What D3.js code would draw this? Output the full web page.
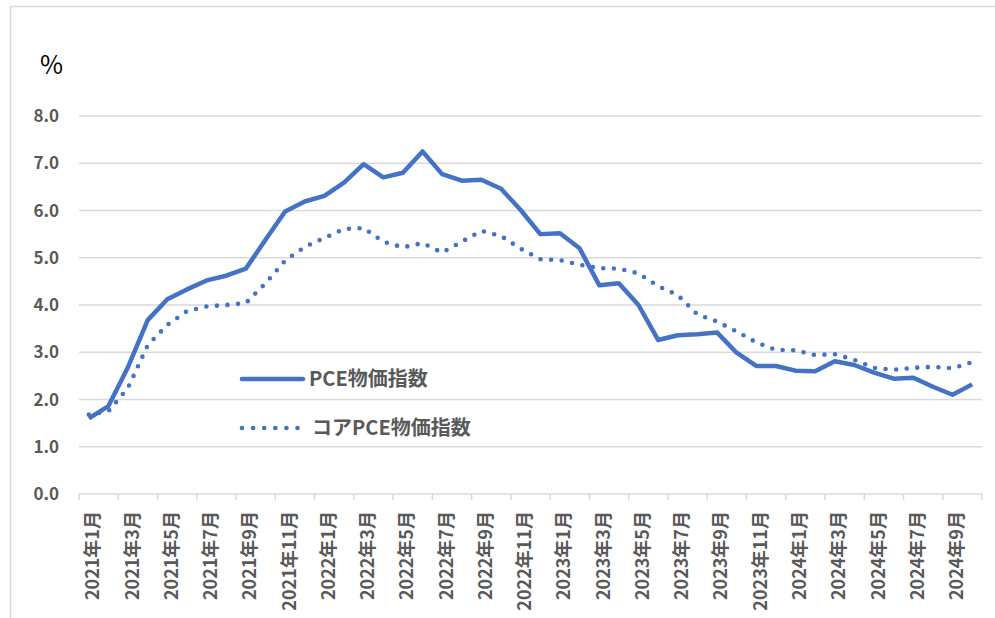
<!DOCTYPE html>
<html>
<head>
<meta charset="utf-8">
<script src="https://cdn.jsdelivr.net/npm/d3@7"></script>
<style>
    body { margin: 0; background: #fff; }
    text { font-family: 'Noto Sans CJK JP', 'Noto Sans', sans-serif; }
</style>
</head>
<body>
<svg></svg>
<script>
let width = 995
let height = 618

let months = [
    '2021年1月', '2021年2月', '2021年3月', '2021年4月', '2021年5月', '2021年6月',
    '2021年7月', '2021年8月', '2021年9月', '2021年10月', '2021年11月', '2021年12月',
    '2022年1月', '2022年2月', '2022年3月', '2022年4月', '2022年5月', '2022年6月',
    '2022年7月', '2022年8月', '2022年9月', '2022年10月', '2022年11月', '2022年12月',
    '2023年1月', '2023年2月', '2023年3月', '2023年4月', '2023年5月', '2023年6月',
    '2023年7月', '2023年8月', '2023年9月', '2023年10月', '2023年11月', '2023年12月',
    '2024年1月', '2024年2月', '2024年3月', '2024年4月', '2024年5月', '2024年6月',
    '2024年7月', '2024年8月', '2024年9月', '2024年10月'
]
let pce = [
    1.6, 1.86, 2.69, 3.68, 4.12, 4.33, 4.52, 4.62, 4.77, 5.38, 5.98, 6.19,
    6.31, 6.59, 6.98, 6.70, 6.80, 7.25, 6.77, 6.63, 6.65, 6.46, 6.01, 5.50,
    5.52, 5.20, 4.42, 4.46, 4.00, 3.26, 3.36, 3.38, 3.42, 2.99, 2.71, 2.71,
    2.61, 2.60, 2.81, 2.73, 2.57, 2.44, 2.46, 2.27, 2.10, 2.32
]
let corePce = [
    1.68, 1.75, 2.25, 3.15, 3.58, 3.87, 3.97, 4.00, 4.04, 4.46, 4.94, 5.23,
    5.42, 5.61, 5.63, 5.34, 5.22, 5.31, 5.11, 5.34, 5.57, 5.46, 5.19, 4.97,
    4.95, 4.85, 4.78, 4.77, 4.67, 4.40, 4.21, 3.80, 3.65, 3.44, 3.21, 3.05,
    3.04, 2.94, 2.96, 2.84, 2.67, 2.63, 2.67, 2.69, 2.66, 2.79
]
let yTicks = [0, 1, 2, 3, 4, 5, 6, 7, 8]
let seriesNames = ['PCE物価指数', 'コアPCE物価指数']

let blue = '#4472c4'
let grid = '#d9d9d9'
let labelColor = '#595959'
let dotDash = '0 10.6'

let svg = d3.select('svg')
    .attr('width', width)
    .attr('height', height)

// chart frame (only top and left edges fall inside the picture)
svg.append('rect')
    .attr('x', 10.5)
    .attr('y', 6.5)
    .attr('width', 1000)
    .attr('height', 700)
    .attr('fill', 'none')
    .attr('stroke', grid)
    .attr('stroke-width', 1.5)

let x = d3.scaleBand()
    .domain(months)
    .range([79, 982])
    .padding(0)
let y = d3.scaleLinear()
    .domain([0, 8])
    .range([494, 116])

let cx = d => x(d) + x.bandwidth() / 2

// gridlines
svg.append('g')
    .selectAll('line')
    .data(yTicks.filter(d => d > 0))
    .enter()
    .append('line')
    .attr('x1', 79)
    .attr('x2', 982)
    .attr('y1', d => y(d))
    .attr('y2', d => y(d))
    .attr('stroke', grid)
    .attr('stroke-width', 1.5)

// y labels
svg.append('g')
    .selectAll('text')
    .data(yTicks)
    .enter()
    .append('text')
    .attr('x', 59)
    .attr('y', d => y(d))
    .attr('dy', '0.36em')
    .attr('text-anchor', 'end')
    .attr('fill', labelColor)
    .attr('font-size', 17)
    .attr('font-weight', 'bold')
    .text(d => d.toFixed(1))

// x axis: line, ticks every 2 categories, labels on odd months
let xAxis = svg.append('g')
xAxis.append('line')
    .attr('x1', 79)
    .attr('x2', 982)
    .attr('y1', y(0))
    .attr('y2', y(0))
    .attr('stroke', grid)
    .attr('stroke-width', 1.5)
let tickPos = months.filter((d, i) => i % 2 === 0).map(d => x(d))
tickPos.push(x.range()[1])
xAxis.selectAll('.tick')
    .data(tickPos)
    .enter()
    .append('line')
    .attr('class', 'tick')
    .attr('x1', d => d)
    .attr('x2', d => d)
    .attr('y1', y(0))
    .attr('y2', y(0) + 6)
    .attr('stroke', grid)
    .attr('stroke-width', 1.5)
xAxis.selectAll('text')
    .data(months.filter((d, i) => i % 2 === 0))
    .enter()
    .append('text')
    .attr('transform', d => `translate(${cx(d) + 4},${y(0) + 17}) rotate(-90)`)
    .attr('dy', '0.36em')
    .attr('text-anchor', 'end')
    .attr('fill', labelColor)
    .attr('font-size', 18)
    .attr('font-weight', 'bold')
    .text(d => d)

// unit
svg.append('text')
    .attr('x', 40)
    .attr('y', 74)
    .attr('font-size', 25)
    .attr('fill', '#000')
    .text('%')

// series lines
let line = d3.line()
    .x((d, i) => cx(months[i]))
    .y(d => y(d))
svg.append('path')
    .datum(pce)
    .attr('d', line)
    .attr('fill', 'none')
    .attr('stroke', blue)
    .attr('stroke-width', 4.5)
    .attr('stroke-linejoin', 'round')
svg.append('path')
    .datum(corePce)
    .attr('d', line)
    .attr('fill', 'none')
    .attr('stroke', blue)
    .attr('stroke-width', 4.6)
    .attr('stroke-linecap', 'round')
    .attr('stroke-dasharray', dotDash)

// legend
let legend = svg.append('g')
    .selectAll('g')
    .data(seriesNames)
    .enter()
    .append('g')
    .attr('transform', (d, i) => `translate(242,${379 + i * 49})`)
legend.append('line')
    .attr('x1', 0)
    .attr('x2', d => d === seriesNames[0] ? 61 : 56)
    .attr('stroke', blue)
    .attr('stroke-width', 4.6)
    .attr('stroke-linecap', 'round')
    .attr('stroke-dasharray', (d, i) => i === 0 ? null : '0 11.1')
legend.append('text')
    .attr('x', (d, i) => i === 0 ? 67 : 70)
    .attr('dy', '0.36em')
    .attr('fill', labelColor)
    .attr('font-size', 20)
    .attr('font-weight', 'bold')
    .text(d => d)
</script>
</body>
</html>
